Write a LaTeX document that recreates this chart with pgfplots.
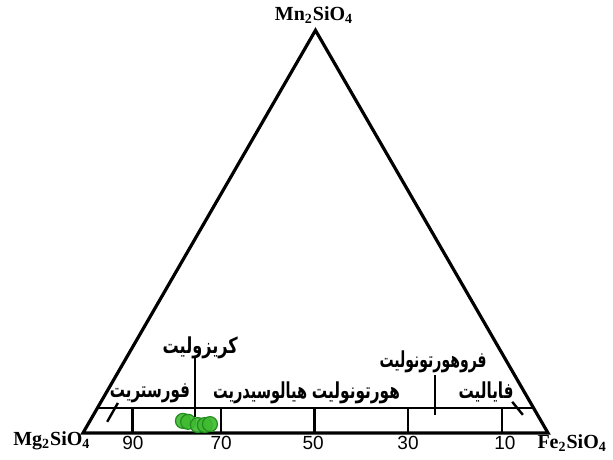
\documentclass[border=0pt]{standalone}
\usepackage{fontspec}
\setmainfont{Liberation Serif}
\newfontfamily\arabicfont[Script=Arabic]{DejaVu Sans}
\newfontfamily\numfont{Liberation Sans}
\TeXXeTstate=1
\usepackage{graphicx}
\usepackage{pgfplots}
\pgfplotsset{compat=1.18}
\definecolor{ptfill}{RGB}{62,186,48}
\definecolor{ptdraw}{RGB}{34,140,30}
\newcommand{\ar}[2]{\resizebox{#1}{\height}{\arabicfont\bfseries\beginR #2\endR}}
\begin{document}
\begin{tikzpicture}
\begin{axis}[name=ax, scale only axis, width=306.5pt, height=230pt,
  xmin=-17.85, xmax=113.98, ymin=-5.81, ymax=93.12,
  axis lines=none, clip=false]
% triangle
\addplot[black, line width=1.6pt, line join=miter] coordinates {(0,0) (100,0) (50,86.6)} -- cycle;
% strip top
\addplot[black, line width=1.3pt] coordinates {(3.1,5.38) (96.9,5.38)};
% ticks
\addplot[black, line width=1.3pt] coordinates {(10.7,0) (10.7,5.38)};
\addplot[black, line width=1.3pt] coordinates {(29.7,0) (29.7,5.38)};
\addplot[black, line width=1.3pt] coordinates {(49.8,0) (49.8,5.38)};
\addplot[black, line width=1.3pt] coordinates {(69.9,0) (69.9,5.38)};
\addplot[black, line width=1.3pt] coordinates {(90.1,0) (90.1,5.38)};
% leader lines
\addplot[black, line width=1.2pt] coordinates {(24.1,16.1) (24.1,3.4)};
\addplot[black, line width=1.2pt] coordinates {(75.7,12.5) (75.7,3.9)};
\addplot[black, line width=1.2pt] coordinates {(7.5,6.45) (5.2,2.4)};
\addplot[black, line width=1.2pt] coordinates {(92.3,6.7) (94.6,3.9)};
% samples
\addplot[only marks, mark=*, mark size=3.75pt, mark options={fill=ptfill, draw=ptdraw, line width=0.6pt, fill opacity=0.9}] coordinates {
(21.5,2.6) (22.6,2.4) (24.7,1.7) (26.2,1.7) (27.3,1.9)};
% corner labels
\node[font=\bfseries\fontsize{10}{12}\selectfont] at (axis cs:49.7,89.9) {Mn\textsubscript{2}SiO\textsubscript{4}};
\node[font=\bfseries\fontsize{10}{12}\selectfont] at (axis cs:-6.7,-1.7) {Mg\textsubscript{2}SiO\textsubscript{4}};
\node[font=\bfseries\fontsize{10}{12}\selectfont] at (axis cs:105.2,-2.15) {Fe\textsubscript{2}SiO\textsubscript{4}};
% tick labels
\node[font=\numfont\fontsize{9.5}{11}\selectfont] at (axis cs:10.75,-2.15) {90};
\node[font=\numfont\fontsize{9.5}{11}\selectfont] at (axis cs:29.7,-2.15) {70};
\node[font=\numfont\fontsize{9.5}{11}\selectfont] at (axis cs:49.5,-2.15) {50};
\node[font=\numfont\fontsize{9.5}{11}\selectfont] at (axis cs:69.9,-2.15) {30};
\node[font=\numfont\fontsize{9.5}{11}\selectfont] at (axis cs:90.75,-2.15) {10};
% mineral labels
\node[font=\fontsize{11}{13}\selectfont] at (axis cs:25.2,18.3) {\ar{37.5pt}{کریزولیت}};
\node[font=\fontsize{11}{13}\selectfont] at (axis cs:14.4,8.6) {\ar{40pt}{فورستریت}};
\node[font=\fontsize{11}{13}\selectfont] at (axis cs:38.1,8.6) {\ar{47pt}{هیالوسیدریت}};
\node[font=\fontsize{11}{13}\selectfont] at (axis cs:58.7,8.6) {\ar{44pt}{هورتونولیت}};
\node[font=\fontsize{11}{13}\selectfont] at (axis cs:75.3,15.3) {\ar{53.5pt}{فروهورتونولیت}};
\node[font=\fontsize{11}{13}\selectfont] at (axis cs:86.7,8.8) {\ar{27.5pt}{فایالیت}};
\end{axis}
\pgfresetboundingbox
\path[use as bounding box] (ax.south west) rectangle (ax.north east);
\end{tikzpicture}
\end{document}
